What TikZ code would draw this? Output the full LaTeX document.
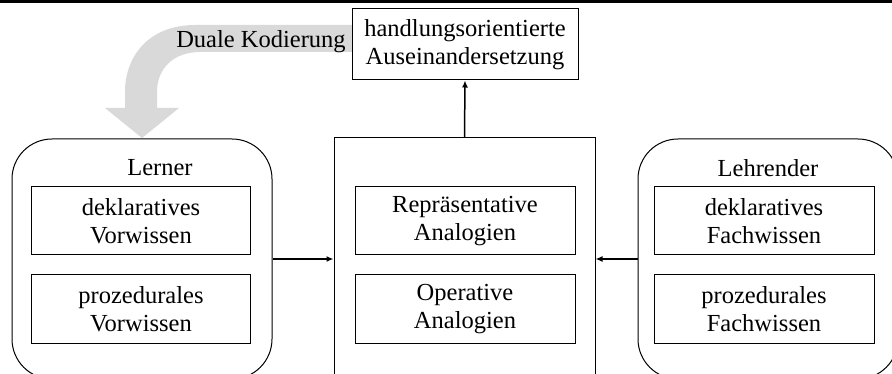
\documentclass[tikz,border=0pt]{standalone}
\usepackage{fontspec}
\setmainfont{Liberation Serif}
\usetikzlibrary{arrows.meta}
\definecolor{arrowgray}{RGB}{217,217,217}
\begin{document}
\begin{tikzpicture}[x=1pt,y=-1pt,
  every node/.style={font=\fontsize{24.5}{27.5}\selectfont, align=center, inner sep=0pt},
  boxx/.style={draw=black, line width=1pt, rectangle},
  innerbox/.style={boxx, minimum width=219pt, minimum height=68pt},
  outerbox/.style={boxx, minimum width=260pt, minimum height=240pt},
  arr/.style={line width=1.5pt, -{Latex[length=7pt,width=6pt]}},
]
\useasboundingbox (0,0) rectangle (892,374);
\begin{scope}
\clip (0,0) rectangle (892,374);
\fill[black] (0,0) rectangle (892,3);
% gray curved arrow
\fill[arrowgray] (352,25) -- (195,25) .. controls (150,25) and (125,55) .. (125,92) -- (125,108) -- (105,108) -- (142,138) -- (179,108) -- (157,108) -- (157,92) .. controls (157,68) and (174,52) .. (200,52) -- (352,52) -- cycle;
\node[anchor=base] (dk) at (261,48) {Duale Kodierung};
% top box
\node[boxx, minimum width=226pt, minimum height=71pt, fill=white] (top) at (465,44.5) {handlungsorientierte\\Auseinandersetzung};
% outer boxes
\node[outerbox, rounded corners=40pt] (lerner) at (142,259) {};
\node[boxx, minimum width=261pt, minimum height=242pt] (mid) at (464.5,259) {};
\node[outerbox, rounded corners=40pt] (lehr) at (768,259) {};
\node (lt) at (160,168) {Lerner};
\node (rt) at (768,168) {Lehrender};
% inner boxes
\node[innerbox] (l1) at (141,221) {deklaratives\\Vorwissen};
\node[innerbox] (l2) at (141,309) {prozedurales\\Vorwissen};
\node[innerbox, minimum width=220pt] (m1) at (465,221) {Repräsentative\\Analogien};
\node[innerbox, minimum width=220pt] (m2) at (465,309) {Operative\\Analogien};
\node[innerbox, minimum width=220pt] (r1) at (764,221) {deklaratives\\Fachwissen};
\node[innerbox, minimum width=220pt] (r2) at (764,309) {prozedurales\\Fachwissen};
% connectors
\draw[arr] (lerner.east) -- (mid.west);
\draw[arr] (lehr.west) -- (mid.east);
\draw[arr] (mid.north) -- (top.south);
\end{scope}
\end{tikzpicture}
\end{document}
